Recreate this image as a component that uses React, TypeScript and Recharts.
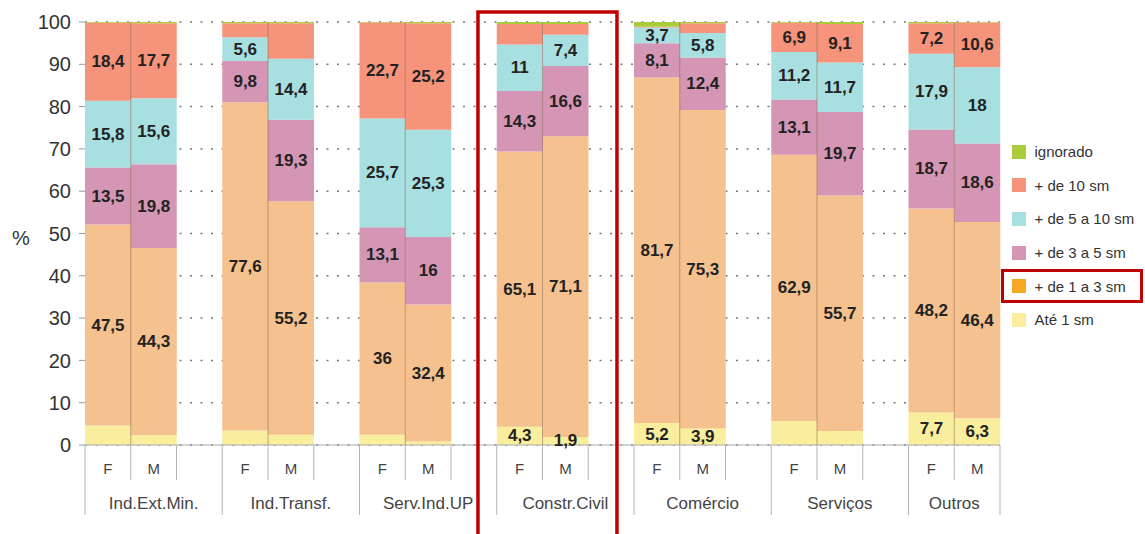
import React from 'react';
import { BarChart, Bar, XAxis, YAxis, CartesianGrid, Legend, LabelList } from 'recharts';

const groups = ['Ind.Ext.Min.', 'Ind.Transf.', 'Serv.Ind.UP', 'Constr.Civil', 'Comércio', 'Serviços', 'Outros'];
const sexes = ['F', 'M'];

// one value per bar: F, M for each group in order
const ate1 = [4.6, 2.3, 3.4, 2.4, 2.4, 0.8, 4.3, 1.9, 5.2, 3.9, 5.7, 3.3, 7.7, 6.3];
const de1a3 = [47.5, 44.3, 77.6, 55.2, 36, 32.4, 65.1, 71.1, 81.7, 75.3, 62.9, 55.7, 48.2, 46.4];
const de3a5 = [13.5, 19.8, 9.8, 19.3, 13.1, 16, 14.3, 16.6, 8.1, 12.4, 13.1, 19.7, 18.7, 18.6];
const de5a10 = [15.8, 15.6, 5.6, 14.4, 25.7, 25.3, 11, 7.4, 3.7, 5.8, 11.2, 11.7, 17.9, 18];
const de10 = [18.4, 17.7, 3.3, 8.4, 22.7, 25.2, 4.8, 2.5, 0.2, 2.3, 6.9, 9.1, 7.2, 10.6];
const ignorado = [0.2, 0.3, 0.3, 0.3, 0.1, 0.3, 0.5, 0.5, 1.1, 0.3, 0.2, 0.5, 0.3, 0.1];

const seriesKeys = ['ate1', 'de1a3', 'de3a5', 'de5a10', 'de10', 'ignorado'];
const seriesNames = ['Até 1 sm', '+ de 1 a 3 sm', '+ de 3 a 5 sm', '+ de 5 a 10 sm', '+ de 10 sm', 'ignorado'];
const barColors = ['#f9ee9e', '#f5c18f', '#d496b4', '#a8dfe0', '#f5937b', '#a9cc3a'];
const legendColors = ['#f9ee9e', '#f7a823', '#d496b4', '#a8dfe0', '#f5937b', '#a9cc3a'];

const labeledAte1Groups = ['Constr.Civil', 'Comércio', 'Outros'];
const unlabeledDe10Groups = ['Ind.Transf.', 'Constr.Civil', 'Comércio'];
const highlightGroup = 'Constr.Civil';
const highlightLegend = '+ de 1 a 3 sm';

const yTicks = [0, 10, 20, 30, 40, 50, 60, 70, 80, 90, 100];

const values: Record<string, number[]> = { ate1, de1a3, de3a5, de5a10, de10, ignorado };

const fmt = (v: number) => String(v).replace('.', ',');

const showLabel = (key: string, group: string) => {
  if (key === 'ignorado') return false;
  if (key === 'ate1') return labeledAte1Groups.includes(group);
  if (key === 'de10') return !unlabeledDe10Groups.includes(group);
  return true;
};

const rows: any[] = [];
groups.forEach((group, gi) => {
  sexes.forEach((sex, si) => {
    const bi = gi * 2 + si;
    const row: any = { id: `${group}-${sex}`, group, sex };
    seriesKeys.forEach((k) => {
      const v = values[k][bi];
      row[k] = v;
      row['lbl_' + k] = showLabel(k, group) ? fmt(v) : null;
    });
    rows.push(row);
  });
  if (gi < groups.length - 1) rows.push({ id: `${group}-gap`, group, sex: '' });
});

const CHART_W = 1145;
const CHART_H = 534;
const LEFT = 85;
const RIGHT = 145;
const TOP = 22;
const XAXIS_H = 89;
const PLOT_W = CHART_W - LEFT - RIGHT;
const PLOT_H = CHART_H - TOP - XAXIS_H;
const BW = PLOT_W / rows.length;

const SlotTick = ({ x, y, payload }: any) => {
  const row = rows.find((r) => r.id === payload.value);
  if (!row) return null;
  const left = x - BW / 2;
  const right = x + BW / 2;
  const isLast = rows[rows.length - 1].id === row.id;
  const hasGap = rows.some((r) => r.group === row.group && r.sex === '');
  return (
    <g>
      <line x1={left} x2={left} y1={y} y2={y + (row.sex === 'F' ? 70 : 35)} stroke="#b5b5b5" />
      {isLast && <line x1={right} x2={right} y1={y} y2={y + 70} stroke="#b5b5b5" />}
      {row.sex && (
        <text x={x} y={y + 23} textAnchor="middle" dominantBaseline="central" fontSize={15} fill="#444">
          {row.sex}
        </text>
      )}
      {row.sex === 'M' && (
        <>
          <line x1={left} x2={left} y1={y - PLOT_H} y2={y} stroke="#8a6a50" strokeOpacity={0.55} />
          <text x={hasGap ? x : left} y={y + 58} textAnchor="middle" dominantBaseline="central" fontSize={17} fill="#444">
            {row.group}
          </text>
        </>
      )}
      {row.sex === 'M' && row.group === highlightGroup && (
        <path
          d={`M${x - 87.4},${CHART_H + 5} V12 H${x + 51.6} V${CHART_H + 5}`}
          fill="none"
          stroke="#c00000"
          strokeWidth={3.5}
        />
      )}
    </g>
  );
};

const renderLabel = (props: any) => {
  const { x, y, width, height, value } = props;
  if (value == null) return null;
  return (
    <text
      x={x + width / 2}
      y={y + height / 2}
      textAnchor="middle"
      dominantBaseline="central"
      fontSize={17}
      fontWeight="bold"
      fill="#222"
    >
      {value}
    </text>
  );
};

const LegendBox = () => {
  const order = seriesNames.map((n, i) => i).reverse();
  return (
    <div style={{ width: 142, fontFamily: '"Liberation Sans", Arial, sans-serif' }}>
      {order.map((i) => (
        <div
          key={seriesNames[i]}
          style={{
            height: 33.6,
            boxSizing: 'border-box',
            border: `3.5px solid ${seriesNames[i] === highlightLegend ? '#c00000' : 'transparent'}`,
            display: 'flex',
            alignItems: 'center',
            paddingLeft: 7.5,
          }}
        >
          <span style={{ width: 14, height: 14, background: legendColors[i], marginRight: 9, flexShrink: 0 }} />
          <span style={{ fontSize: 15, color: '#333', whiteSpace: 'nowrap' }}>{seriesNames[i]}</span>
        </div>
      ))}
    </div>
  );
};

export default function App() {
  return (
    <div style={{ width: CHART_W, height: CHART_H, fontFamily: '"Liberation Sans", Arial, sans-serif' }}>
      <style>{'body{margin:0}'}</style>
      <BarChart
        width={CHART_W}
        height={CHART_H}
        data={rows}
        margin={{ top: TOP, right: RIGHT, bottom: 0, left: 0 }}
        barCategoryGap={0}
        barGap={0}
      >
        <CartesianGrid vertical={false} stroke="#777" strokeWidth={1.5} strokeDasharray="2 8.5" />
        <XAxis
          dataKey="id"
          height={XAXIS_H}
          interval={0}
          tickSize={0}
          tickMargin={0}
          tickLine={false}
          axisLine={{ stroke: '#aaa' }}
          tick={<SlotTick />}
        />
        <YAxis
          width={LEFT}
          domain={[0, 100]}
          ticks={yTicks}
          allowDataOverflow
          axisLine={false}
          tickLine={{ stroke: '#999' }}
          tickSize={6}
          tickMargin={8}
          tick={{ fontSize: 20, fill: '#333' }}
          label={{ value: '%', position: 'insideLeft', offset: 12, dy: 4, fontSize: 20, fill: '#333' }}
        />
        <Legend
          layout="vertical"
          align="center"
          verticalAlign="middle"
          content={<LegendBox />}
          wrapperStyle={{ left: 1001, top: 135, width: 142, height: 202 }}
        />
        {seriesKeys.map((k, i) => (
          <Bar key={k} dataKey={k} name={seriesNames[i]} stackId="a" fill={barColors[i]} isAnimationActive={false}>
            <LabelList dataKey={'lbl_' + k} content={renderLabel} />
          </Bar>
        ))}
      </BarChart>
    </div>
  );
}
